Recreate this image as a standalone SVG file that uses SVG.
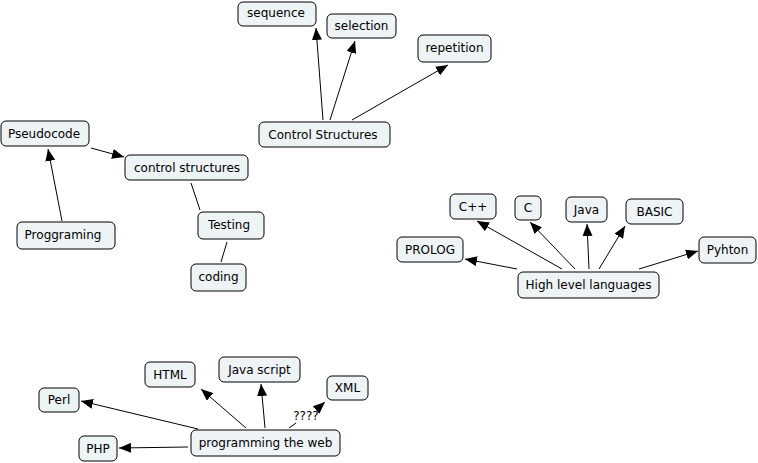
<svg xmlns="http://www.w3.org/2000/svg" width="758" height="463" viewBox="0 0 758 463">
<style>
.n rect{fill:#eef3f5;stroke:#000;stroke-width:1}
.n text{font-family:"DejaVu Sans",Verdana,sans-serif;font-size:12px;fill:#000;text-anchor:middle;dominant-baseline:central}
.c line{stroke:#000;stroke-width:1}
.lbl{font-family:"DejaVu Sans",Verdana,sans-serif;font-size:12px;fill:#000;text-anchor:middle;dominant-baseline:central}
</style>
<defs>
<marker id="a" markerWidth="12" markerHeight="10" refX="12" refY="5" orient="auto" markerUnits="userSpaceOnUse">
<path d="M0,0 L12,5 L0,10 Z" fill="#000"/>
</marker>
</defs>
<g class="c" id="connectors">
<line x1="323" y1="120" x2="316" y2="28" marker-end="url(#a)"/>
<line x1="330" y1="120" x2="355" y2="41" marker-end="url(#a)"/>
<line x1="352" y1="120" x2="448" y2="65" marker-end="url(#a)"/>
<line x1="91" y1="148" x2="124" y2="157" marker-end="url(#a)"/>
<line x1="62" y1="221" x2="48" y2="149" marker-end="url(#a)"/>
<line x1="191" y1="183" x2="200" y2="210"/>
<line x1="227" y1="242" x2="221" y2="262"/>
<line x1="517" y1="269" x2="465" y2="259" marker-end="url(#a)"/>
<line x1="562" y1="269" x2="477" y2="221" marker-end="url(#a)"/>
<line x1="575" y1="269" x2="530" y2="222" marker-end="url(#a)"/>
<line x1="589" y1="269" x2="587" y2="224" marker-end="url(#a)"/>
<line x1="599" y1="269" x2="625" y2="226" marker-end="url(#a)"/>
<line x1="639" y1="269" x2="698" y2="251" marker-end="url(#a)"/>
<line x1="198" y1="429" x2="81" y2="401" marker-end="url(#a)"/>
<line x1="246" y1="428" x2="201" y2="389" marker-end="url(#a)"/>
<line x1="265" y1="428" x2="261" y2="384" marker-end="url(#a)"/>
<line x1="289" y1="428" x2="296" y2="423"/>
<line x1="316" y1="410" x2="325" y2="402" marker-end="url(#a)"/>
<line x1="188" y1="447" x2="119" y2="448" marker-end="url(#a)"/>
<text class="lbl" x="306" y="416">????</text>
</g>
<g class="n" id="sequence"><rect x="238" y="2" width="78" height="24" rx="5"/><text x="276" y="13">sequence</text></g>
<g class="n" id="selection"><rect x="327" y="14" width="69" height="24" rx="5"/><text x="361.5" y="26">selection</text></g>
<g class="n" id="repetition"><rect x="418" y="35" width="73" height="27" rx="5"/><text x="454.5" y="48">repetition</text></g>
<g class="n" id="control-structures-top"><rect x="259" y="122" width="131" height="25" rx="5"/><text x="323" y="134.5">Control Structures</text></g>
<g class="n" id="pseudocode"><rect x="1" y="121" width="88" height="25" rx="5"/><text x="44" y="133.5">Pseudocode</text></g>
<g class="n" id="control-structures"><rect x="125" y="155" width="123" height="25" rx="5"/><text x="187" y="167.5">control structures</text></g>
<g class="n" id="testing"><rect x="198" y="212" width="66" height="27" rx="5"/><text x="229" y="225">Testing</text></g>
<g class="n" id="proggraming"><rect x="17" y="222" width="98" height="27" rx="5"/><text x="63" y="235">Proggraming</text></g>
<g class="n" id="coding"><rect x="191" y="264" width="55" height="27" rx="5"/><text x="218.5" y="277">coding</text></g>
<g class="n" id="cpp"><rect x="450" y="194" width="46" height="25" rx="5"/><text x="473" y="206.5">C++</text></g>
<g class="n" id="c"><rect x="515" y="196" width="26" height="24" rx="5"/><text x="528" y="208">C</text></g>
<g class="n" id="java"><rect x="566" y="197" width="41" height="25" rx="5"/><text x="586.5" y="209.5">Java</text></g>
<g class="n" id="basic"><rect x="626" y="199" width="57" height="25" rx="5"/><text x="654.5" y="211.5">BASIC</text></g>
<g class="n" id="prolog"><rect x="397" y="237" width="66" height="25" rx="5"/><text x="430" y="249.5">PROLOG</text></g>
<g class="n" id="pyhton"><rect x="699" y="237" width="57" height="26" rx="5"/><text x="727.5" y="250">Pyhton</text></g>
<g class="n" id="high-level"><rect x="518" y="272" width="141" height="26" rx="5"/><text x="588.5" y="285">High level languages</text></g>
<g class="n" id="html"><rect x="145" y="362" width="50" height="25" rx="5"/><text x="170" y="374.5">HTML</text></g>
<g class="n" id="javascript"><rect x="219" y="357" width="81" height="25" rx="5"/><text x="259.5" y="369.5">Java script</text></g>
<g class="n" id="xml"><rect x="327" y="376" width="41" height="24" rx="5"/><text x="347.5" y="388">XML</text></g>
<g class="n" id="perl"><rect x="39" y="388" width="40" height="24" rx="5"/><text x="59" y="400">Perl</text></g>
<g class="n" id="php"><rect x="79" y="436" width="38" height="25" rx="5"/><text x="98" y="448.5">PHP</text></g>
<g class="n" id="web"><rect x="191" y="430" width="149" height="26" rx="5"/><text x="265.5" y="443">programming the web</text></g>
</svg>
